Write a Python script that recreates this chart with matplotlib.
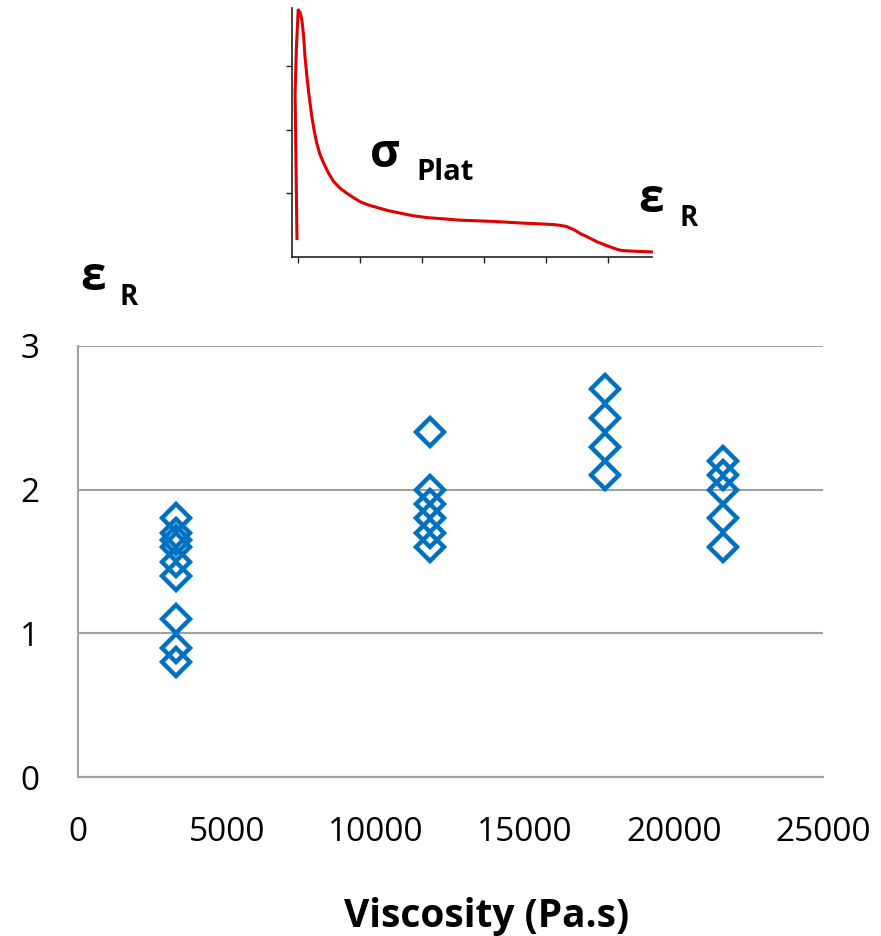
import matplotlib.pyplot as plt

# epsilon_R measurements grouped by viscosity (Pa.s)
visc_a = [3300] * 9
eps_a = [1.8, 1.7, 1.65, 1.6, 1.5, 1.4, 1.1, 0.9, 0.8]
visc_b = [11800] * 6
eps_b = [2.4, 2.0, 1.9, 1.8, 1.7, 1.6]
visc_c = [17700] * 4
eps_c = [2.7, 2.5, 2.3, 2.1]
visc_d = [21650] * 5
eps_d = [2.2, 2.1, 2.0, 1.8, 1.6]

# schematic stress-strain curve for the inset (arbitrary units)
strain = [-0.02, -0.05, -0.03, 0.0, 0.03, 0.06, 0.09, 0.11, 0.14, 0.17, 0.22,
          0.26, 0.30, 0.35, 0.41, 0.49, 0.57, 0.68, 0.79, 0.9, 1.0, 1.13,
          1.27, 1.45, 1.65, 1.85, 2.08, 2.35, 2.61, 3.15, 3.69, 3.95, 4.12,
          4.22, 4.33, 4.45, 4.55, 4.68, 4.82, 4.95, 5.09, 5.18, 5.25, 5.45,
          5.70]
stress = [0.29, 2.58, 3.26, 3.89, 3.85, 3.73, 3.45, 3.15, 2.85, 2.58, 2.21,
          1.98, 1.79, 1.62, 1.48, 1.32, 1.19, 1.08, 1.00, 0.93, 0.87, 0.82,
          0.78, 0.73, 0.69, 0.65, 0.62, 0.60, 0.58, 0.56, 0.53, 0.52, 0.51,
          0.50, 0.48, 0.43, 0.37, 0.31, 0.24, 0.19, 0.14, 0.11, 0.10, 0.09,
          0.08]

x_ticks = [0, 5000, 10000, 15000, 20000, 25000]
y_ticks = [0, 1, 2, 3]

W, H = 881, 936
plt.rcParams['font.family'] = ['Open Sans', 'DejaVu Sans']

fig = plt.figure(figsize=(W / 100, H / 100), dpi=100)

# main scatter
ax = fig.add_axes([78 / W, 1 - 777 / H, (823 - 78) / W, (777 - 346) / H])
blue = '#0070C0'
for xs, ys in [(visc_a, eps_a), (visc_b, eps_b), (visc_c, eps_c), (visc_d, eps_d)]:
    ax.plot(xs, ys, linestyle='none', marker='D', markersize=14,
            markerfacecolor='none', markeredgecolor=blue, markeredgewidth=3.2,
            clip_on=False, zorder=3)
ax.set_xlim(0, 25000)
ax.set_ylim(0, 3)
ax.set_xticks(x_ticks)
ax.set_yticks(y_ticks)
ax.set_xticklabels([str(v) for v in x_ticks])
ax.set_yticklabels([str(v) for v in y_ticks])
ax.tick_params(length=0, labelsize=24, pad=28)
ax.yaxis.grid(True, color='#A0A0A0', linewidth=1.5)
ax.set_axisbelow(True)
for s in ['top', 'right']:
    ax.spines[s].set_visible(False)
for s in ['left', 'bottom']:
    ax.spines[s].set_color('#A0A0A0')
    ax.spines[s].set_linewidth(1.5)
ax.set_xlabel('Viscosity (Pa.s)', fontsize=28, fontweight='bold')
ax.xaxis.set_label_coords((487 - 78) / 745, -(927 - 777) / 431)
ax.xaxis.label.set_va('baseline')

# inset curve
ins = fig.add_axes([292 / W, 1 - 257 / H, (652 - 292) / W, (257 - 8) / H])
ins.plot(strain, stress, color='#E00000', linewidth=2.2, clip_on=False)
ins.set_xlim(-0.1, 5.71)
ins.set_ylim(0, 3.92)
ins.set_xticks([0, 1, 2, 3, 4, 5])
ins.set_yticks([1, 2, 3])
ins.set_xticklabels([])
ins.set_yticklabels([])
ins.tick_params(length=4, width=1, color='#222222')
for s in ['top', 'right']:
    ins.spines[s].set_visible(False)
for s in ['left', 'bottom']:
    ins.spines[s].set_color('#222222')
    ins.spines[s].set_linewidth(1.2)
ins.patch.set_alpha(0)


def label(px, py, txt, size):
    fig.text(px / W, 1 - py / H, txt, fontsize=size, fontweight='bold',
             va='baseline', ha='left')


label(80, 290, 'ε', 33)
label(120, 305, 'R', 20)
label(370, 167, 'σ', 33)
label(416, 180, 'Plat', 21)
label(638, 212, 'ε', 33)
label(680, 226, 'R', 20)

fig.savefig('out.png', dpi=100)
